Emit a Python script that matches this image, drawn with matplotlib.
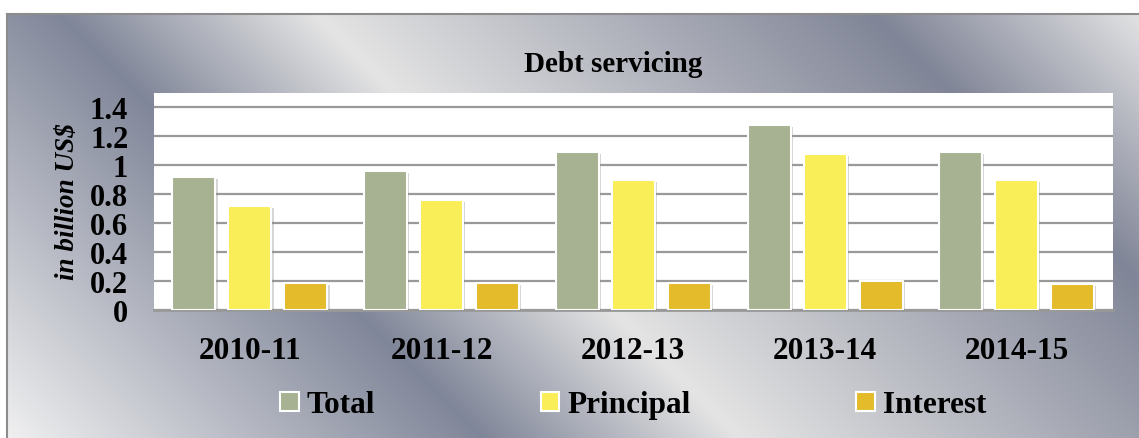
import numpy as np
import matplotlib
matplotlib.use('Agg')
import matplotlib.pyplot as plt
import matplotlib.patheffects as pe
from matplotlib.patches import Rectangle

plt.rcParams['font.family'] = 'Liberation Serif'
plt.rcParams['font.weight'] = 'bold'

# Debt servicing, in billion US$
years = ['2010-11', '2011-12', '2012-13', '2013-14', '2014-15']
total = [0.92, 0.96, 1.09, 1.28, 1.09]
principal = [0.72, 0.76, 0.90, 1.08, 0.90]
interest = [0.19, 0.19, 0.19, 0.20, 0.18]

W, H = 1139, 439
fig = plt.figure(figsize=(W / 100, H / 100), dpi=100)

# silver metallic backdrop, banded along the diagonal
bg = fig.add_axes([0, 0, 1, 1], zorder=-10)
yy, xx = np.mgrid[0:H, 0:W]
u = xx - yy
stops = [-440, 45, 300, 860, 1140]
cols = np.array([[0xf2, 0xf2, 0xf2], [0x80, 0x86, 0x99], [0xe4, 0xe4, 0xe4],
                 [0x80, 0x85, 0x97], [0xe8, 0xe8, 0xe8]]) / 255.0
img = np.dstack([np.interp(u, stops, cols[:, c]) for c in range(3)])
bg.imshow(img, extent=[0, W, H, 0], aspect='auto', interpolation='bilinear')
bg.add_patch(Rectangle((0, 0), W, 15, color='white', lw=0))
bg.add_patch(Rectangle((0, 0), 7, H, color='white', lw=0))
bg.plot([7, W], [15, 15], color='#8c8c8c', lw=1.5)
bg.plot([7, 7], [15, H], color='#8c8c8c', lw=1.5)
bg.set_xlim(0, W)
bg.set_ylim(H, 0)
bg.axis('off')

ax = fig.add_axes([154 / W, 1 - 311 / H, (1112.7 - 154) / W, (311 - 94) / H])
ax.set_facecolor('white')

x = np.arange(len(years))
w = 0.225
step = 0.292
shadow = [pe.SimplePatchShadow(offset=(1.5, -1.5), shadow_rgbFace='#888888', alpha=0.35), pe.Normal()]
series = [(total, '#a6b291', 'Total'), (principal, '#f9ee58', 'Principal'), (interest, '#e4bb2a', 'Interest')]
for i, (vals, color, name) in enumerate(series):
    bars = ax.bar(x + (i - 1) * step, vals, width=w, color=color, edgecolor='white',
                  linewidth=1.5, label=name, zorder=3)
    for b in bars:
        b.set_path_effects(shadow)

ax.set_xlim(-0.5, len(years) - 0.5)
ax.set_ylim(0, 1.5)
ax.set_yticks(np.arange(0, 1.41, 0.2))
ax.set_yticklabels(['0', '0.2', '0.4', '0.6', '0.8', '1', '1.2', '1.4'])
ax.set_xticks(x)
ax.set_xticklabels(years)
ax.tick_params(axis='y', length=0, pad=18.5, labelsize=22)
ax.tick_params(axis='x', length=0, pad=19, labelsize=22.5)
ax.yaxis.grid(True, color='#999999', linewidth=1.6, zorder=0)
ax.set_axisbelow(True)
for s in ['top', 'right', 'left']:
    ax.spines[s].set_visible(False)
ax.spines['bottom'].set_color('#999999')
ax.spines['bottom'].set_linewidth(2)

fig.text(68 / W, 1 - 201.5 / H, 'in billion US$', rotation=90, ha='center', va='center',
         fontsize=19.5, fontstyle='italic')
fig.text(613 / W, 1 - 71.7 / H, 'Debt servicing', ha='center', va='baseline', fontsize=21)

handles, labels = ax.get_legend_handles_labels()
leg = fig.legend(handles, labels, loc='center', bbox_to_anchor=(633 / W, 1 - 406 / H), ncol=3,
                 frameon=False, fontsize=22.5, handlelength=0.6, handleheight=0.6,
                 handletextpad=0.25, columnspacing=5.3)
for h in leg.legend_handles:
    h.set_path_effects([])

fig.savefig('out.png', dpi=100)
